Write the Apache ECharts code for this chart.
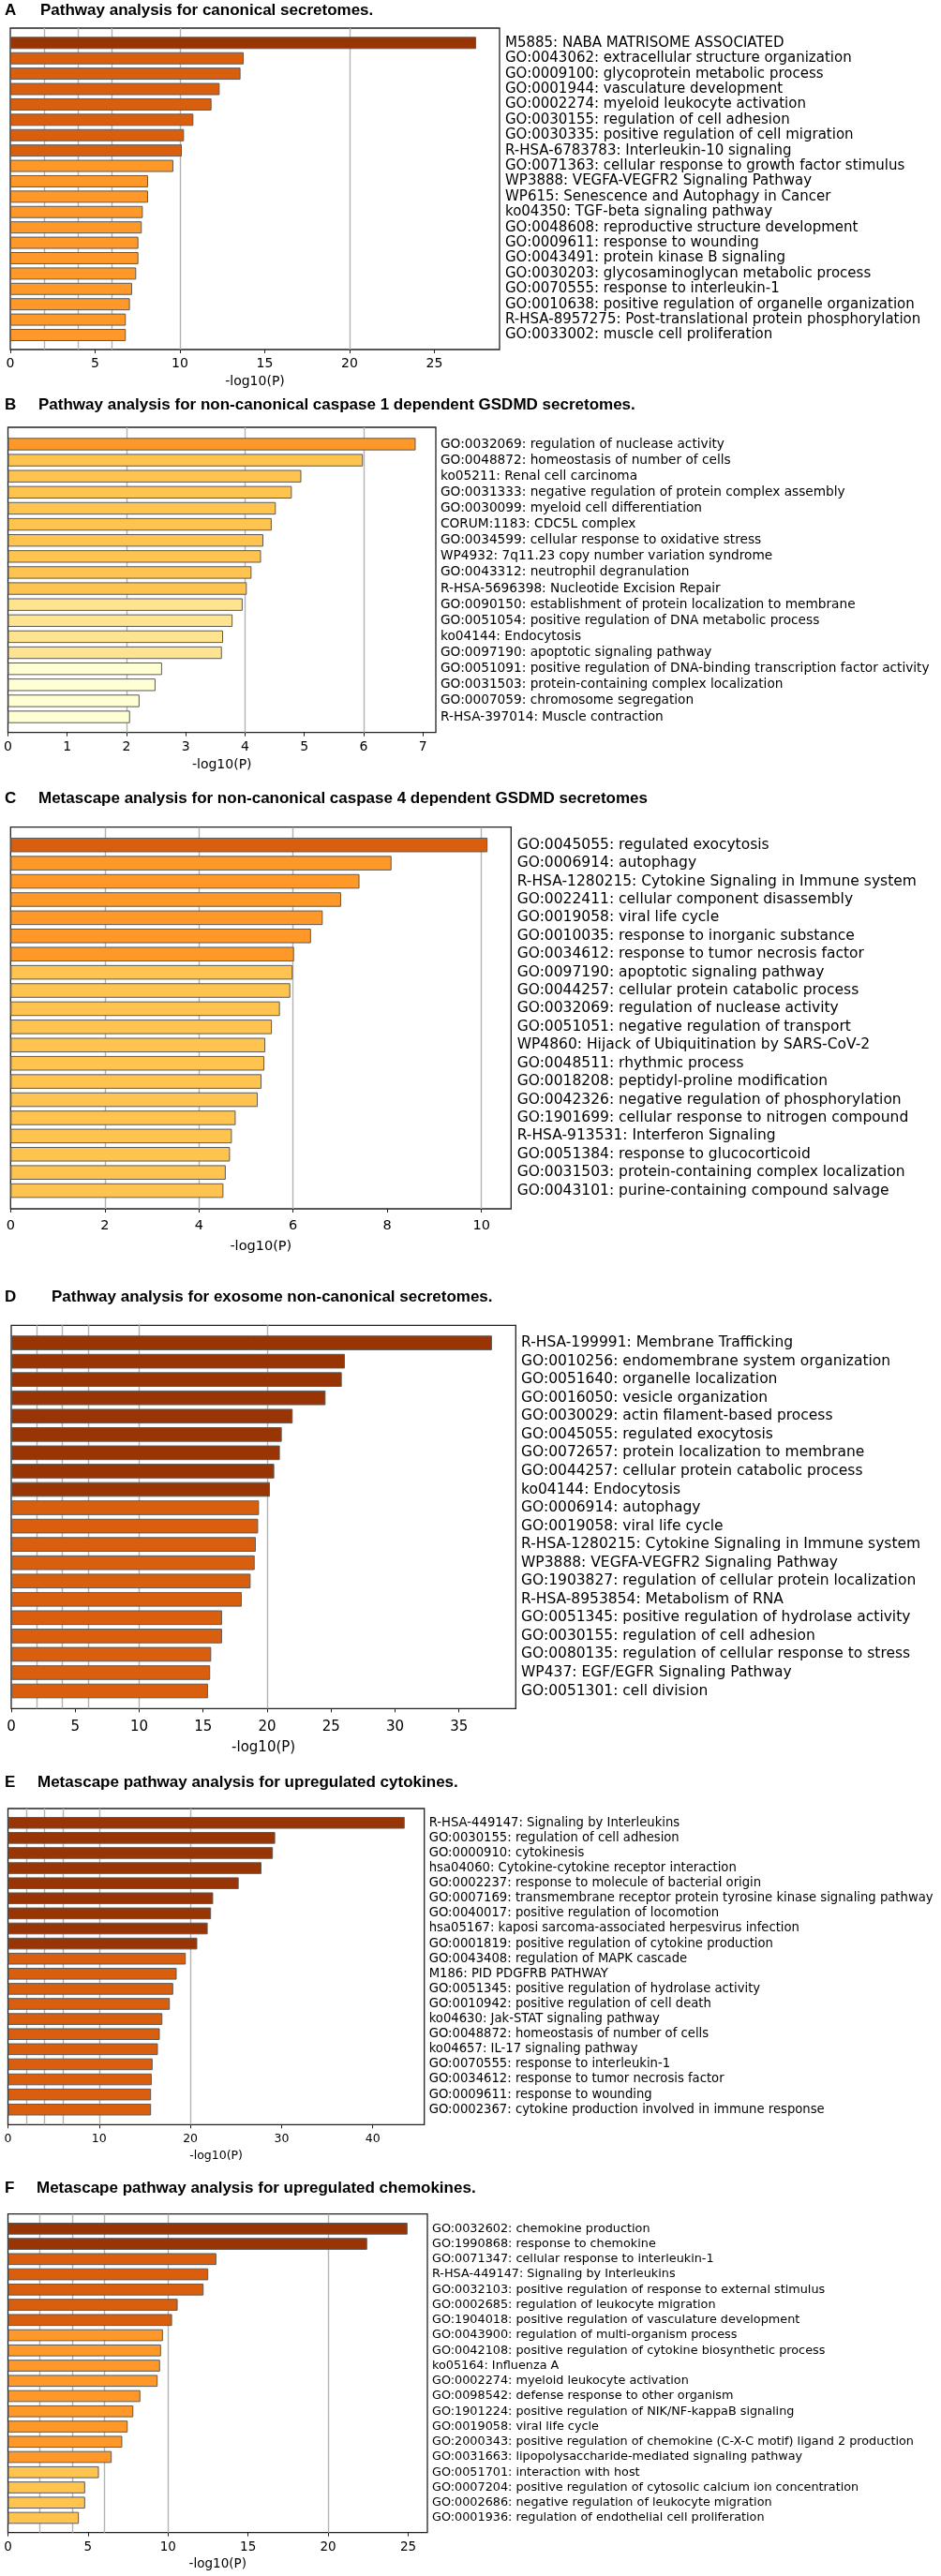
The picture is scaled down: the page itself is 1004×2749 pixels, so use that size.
<!DOCTYPE html>
<html>
<head>
<meta charset="utf-8">
<script src="https://cdn.jsdelivr.net/npm/echarts@6/dist/echarts.min.js"></script>
<style>
html, body { margin: 0; padding: 0; background: #fff; }
#main { width: 1004px; height: 2749px; }
</style>
</head>
<body>
<div id="main"></div>
<script>
// ---- data: -log10(P) per term ----
var termsA = ['M5885: NABA MATRISOME ASSOCIATED', 'GO:0043062: extracellular structure organization',
  'GO:0009100: glycoprotein metabolic process', 'GO:0001944: vasculature development',
  'GO:0002274: myeloid leukocyte activation', 'GO:0030155: regulation of cell adhesion',
  'GO:0030335: positive regulation of cell migration', 'R-HSA-6783783: Interleukin-10 signaling',
  'GO:0071363: cellular response to growth factor stimulus', 'WP3888: VEGFA-VEGFR2 Signaling Pathway',
  'WP615: Senescence and Autophagy in Cancer', 'ko04350: TGF-beta signaling pathway',
  'GO:0048608: reproductive structure development', 'GO:0009611: response to wounding',
  'GO:0043491: protein kinase B signaling', 'GO:0030203: glycosaminoglycan metabolic process',
  'GO:0070555: response to interleukin-1', 'GO:0010638: positive regulation of organelle organization',
  'R-HSA-8957275: Post-translational protein phosphorylation', 'GO:0033002: muscle cell proliferation'];
var valuesA = [27.46, 13.76, 13.57, 12.34, 11.86, 10.79, 10.24, 10.11, 9.61, 8.12,
  8.12, 7.81, 7.75, 7.55, 7.55, 7.42, 7.18, 7.05, 6.81, 6.81];
var ticksA = [0, 5, 10, 15, 20, 25];

var termsB = ['GO:0032069: regulation of nuclease activity', 'GO:0048872: homeostasis of number of cells',
  'ko05211: Renal cell carcinoma', 'GO:0031333: negative regulation of protein complex assembly',
  'GO:0030099: myeloid cell differentiation', 'CORUM:1183: CDC5L complex',
  'GO:0034599: cellular response to oxidative stress', 'WP4932: 7q11.23 copy number variation syndrome',
  'GO:0043312: neutrophil degranulation', 'R-HSA-5696398: Nucleotide Excision Repair',
  'GO:0090150: establishment of protein localization to membrane', 'GO:0051054: positive regulation of DNA metabolic process',
  'ko04144: Endocytosis', 'GO:0097190: apoptotic signaling pathway',
  'GO:0051091: positive regulation of DNA-binding transcription factor activity', 'GO:0031503: protein-containing complex localization',
  'GO:0007059: chromosome segregation', 'R-HSA-397014: Muscle contraction'];
var valuesB = [6.88, 5.99, 4.95, 4.79, 4.52, 4.45, 4.31, 4.27, 4.11, 4.03,
  3.96, 3.79, 3.63, 3.61, 2.60, 2.49, 2.22, 2.06];
var ticksB = [0, 1, 2, 3, 4, 5, 6, 7];

var termsC = ['GO:0045055: regulated exocytosis', 'GO:0006914: autophagy',
  'R-HSA-1280215: Cytokine Signaling in Immune system', 'GO:0022411: cellular component disassembly',
  'GO:0019058: viral life cycle', 'GO:0010035: response to inorganic substance',
  'GO:0034612: response to tumor necrosis factor', 'GO:0097190: apoptotic signaling pathway',
  'GO:0044257: cellular protein catabolic process', 'GO:0032069: regulation of nuclease activity',
  'GO:0051051: negative regulation of transport', 'WP4860: Hijack of Ubiquitination by SARS-CoV-2',
  'GO:0048511: rhythmic process', 'GO:0018208: peptidyl-proline modification',
  'GO:0042326: negative regulation of phosphorylation', 'GO:1901699: cellular response to nitrogen compound',
  'R-HSA-913531: Interferon Signaling', 'GO:0051384: response to glucocorticoid',
  'GO:0031503: protein-containing complex localization', 'GO:0043101: purine-containing compound salvage'];
var valuesC = [10.13, 8.09, 7.41, 7.02, 6.63, 6.38, 6.02, 5.99, 5.94, 5.72,
  5.55, 5.41, 5.39, 5.33, 5.25, 4.78, 4.70, 4.66, 4.57, 4.52];
var ticksC = [0, 2, 4, 6, 8, 10];

var termsD = ['R-HSA-199991: Membrane Trafficking', 'GO:0010256: endomembrane system organization',
  'GO:0051640: organelle localization', 'GO:0016050: vesicle organization',
  'GO:0030029: actin filament-based process', 'GO:0045055: regulated exocytosis',
  'GO:0072657: protein localization to membrane', 'GO:0044257: cellular protein catabolic process',
  'ko04144: Endocytosis', 'GO:0006914: autophagy', 'GO:0019058: viral life cycle',
  'R-HSA-1280215: Cytokine Signaling in Immune system', 'WP3888: VEGFA-VEGFR2 Signaling Pathway',
  'GO:1903827: regulation of cellular protein localization', 'R-HSA-8953854: Metabolism of RNA',
  'GO:0051345: positive regulation of hydrolase activity', 'GO:0030155: regulation of cell adhesion',
  'GO:0080135: regulation of cellular response to stress', 'WP437: EGF/EGFR Signaling Pathway',
  'GO:0051301: cell division'];
var valuesD = [37.58, 26.08, 25.84, 24.57, 22.0, 21.15, 21.0, 20.56, 20.22, 19.37,
  19.30, 19.12, 19.03, 18.71, 18.02, 16.48, 16.48, 15.63, 15.55, 15.38];
var ticksD = [0, 5, 10, 15, 20, 25, 30, 35];

var termsE = ['R-HSA-449147: Signaling by Interleukins', 'GO:0030155: regulation of cell adhesion',
  'GO:0000910: cytokinesis', 'hsa04060: Cytokine-cytokine receptor interaction',
  'GO:0002237: response to molecule of bacterial origin',
  'GO:0007169: transmembrane receptor protein tyrosine kinase signaling pathway',
  'GO:0040017: positive regulation of locomotion', 'hsa05167: kaposi sarcoma-associated herpesvirus infection',
  'GO:0001819: positive regulation of cytokine production', 'GO:0043408: regulation of MAPK cascade',
  'M186: PID PDGFRB PATHWAY', 'GO:0051345: positive regulation of hydrolase activity',
  'GO:0010942: positive regulation of cell death', 'ko04630: Jak-STAT signaling pathway',
  'GO:0048872: homeostasis of number of cells', 'ko04657: IL-17 signaling pathway',
  'GO:0070555: response to interleukin-1', 'GO:0034612: response to tumor necrosis factor',
  'GO:0009611: response to wounding', 'GO:0002367: cytokine production involved in immune response'];
var valuesE = [43.5, 29.3, 29.05, 27.8, 25.3, 22.5, 22.27, 21.9, 20.76, 19.5,
  18.5, 18.12, 17.75, 16.93, 16.65, 16.44, 15.86, 15.76, 15.69, 15.69];
var ticksE = [0, 10, 20, 30, 40];

var termsF = ['GO:0032602: chemokine production', 'GO:1990868: response to chemokine',
  'GO:0071347: cellular response to interleukin-1', 'R-HSA-449147: Signaling by Interleukins',
  'GO:0032103: positive regulation of response to external stimulus', 'GO:0002685: regulation of leukocyte migration',
  'GO:1904018: positive regulation of vasculature development', 'GO:0043900: regulation of multi-organism process',
  'GO:0042108: positive regulation of cytokine biosynthetic process', 'ko05164: Influenza A',
  'GO:0002274: myeloid leukocyte activation', 'GO:0098542: defense response to other organism',
  'GO:1901224: positive regulation of NIK/NF-kappaB signaling', 'GO:0019058: viral life cycle',
  'GO:2000343: positive regulation of chemokine (C-X-C motif) ligand 2 production',
  'GO:0031663: lipopolysaccharide-mediated signaling pathway', 'GO:0051701: interaction with host',
  'GO:0007204: positive regulation of cytosolic calcium ion concentration',
  'GO:0002686: negative regulation of leukocyte migration', 'GO:0001936: regulation of endothelial cell proliferation'];
var valuesF = [24.96, 22.44, 13.02, 12.51, 12.22, 10.6, 10.25, 9.68, 9.56, 9.5,
  9.35, 8.27, 7.83, 7.48, 7.14, 6.48, 5.68, 4.82, 4.82, 4.43];
var ticksF = [0, 5, 10, 15, 20, 25];

// p-value reference lines (-log10 P = 2, 4, 6, 10, 20)
var cutLines = [2, 4, 6, 10, 20];
// discrete colour bins by -log10(P)
var pBreaks = [20, 10, 6, 4, 3];
var pColors = ['#993404', '#d95f0e', '#fe9929', '#fec44f', '#fee391', '#ffffd4'];

function binColor(v) {
  for (var i = 0; i < pBreaks.length; i++) {
    if (v >= pBreaks[i]) return pColors[i];
  }
  return pColors[pColors.length - 1];
}

// layout of the six panels (frame = [left, top, right, bottom], bars = inner band top/bottom)
var panels = [
  {letter: 'A', title: 'Pathway analysis for canonical secretomes.', tx: 43, ty: 12,
   terms: termsA, values: valuesA, ticks: ticksA, frame: [11, 30, 533, 373], bars: [37.6, 365.7],
   xMax: 28.84, tickFont: 14, labelFont: 15, labelMargin: 6, tickMargin: 8, nameGap: 27, gap: '21%'},
  {letter: 'B', title: 'Pathway analysis for non-canonical caspase 1 dependent GSDMD secretomes.', tx: 41, ty: 433,
   terms: termsB, values: valuesB, ticks: ticksB, frame: [8.5, 456, 465, 781.7], bars: [465.4, 773.6],
   xMax: 7.22, tickFont: 14, labelFont: 13.7, labelMargin: 5, tickMargin: 9, nameGap: 28, gap: '22%'},
  {letter: 'C', title: 'Metascape analysis for non-canonical caspase 4 dependent GSDMD secretomes', tx: 41, ty: 853,
   terms: termsC, values: valuesC, ticks: ticksC, frame: [11.3, 882.7, 545.3, 1290], bars: [892, 1280.3],
   xMax: 10.63, tickFont: 14.5, labelFont: 15.5, labelMargin: 6.4, tickMargin: 10.5, nameGap: 32.5, gap: '20%'},
  {letter: 'D', title: 'Pathway analysis for exosome non-canonical secretomes.', tx: 55, ty: 1385,
   terms: termsD, values: valuesD, ticks: ticksD, frame: [12, 1414.3, 550.3, 1823.3], bars: [1423.3, 1814.3],
   xMax: 39.44, tickFont: 15, labelFont: 15.5, labelMargin: 5.7, tickMargin: 12, nameGap: 34, gap: '20%'},
  {letter: 'E', title: 'Metascape pathway analysis for upregulated cytokines.', tx: 40, ty: 1903,
   terms: termsE, values: valuesE, ticks: ticksE, frame: [8.5, 1930, 452.7, 2267.3], bars: [1937.2, 2259.3],
   xMax: 45.65, tickFont: 12.5, labelFont: 13.2, labelMargin: 5, tickMargin: 9, nameGap: 27, gap: '22%'},
  {letter: 'F', title: 'Metascape pathway analysis for upregulated chemokines.', tx: 39, ty: 2336,
   terms: termsF, values: valuesF, ticks: ticksF, frame: [8.5, 2362.7, 456, 2702.7], bars: [2370.2, 2695.1],
   xMax: 26.2, tickFont: 13.5, labelFont: 12.8, labelMargin: 5, tickMargin: 9, nameGap: 26.5, gap: '22%'}
];

var labelFamily = '"DejaVu Sans", sans-serif';
var titleFamily = '"Liberation Sans", Arial, sans-serif';

var option = {
  animation: false,
  backgroundColor: '#fff',
  title: [], grid: [], xAxis: [], yAxis: [], series: []
};

panels.forEach(function (p, k) {
  var L = p.frame[0], T = p.frame[1], R = p.frame[2], B = p.frame[3];
  var og = 2 * k, ig = 2 * k + 1;

  option.title.push({
    text: p.letter, left: 5, top: p.ty - 9, padding: 0,
    textStyle: {fontFamily: titleFamily, fontWeight: 'bold', fontSize: 17, color: '#000'}
  });
  option.title.push({
    text: p.title, left: p.tx, top: p.ty - 9, padding: 0,
    textStyle: {fontFamily: titleFamily, fontWeight: 'bold', fontSize: 17, color: '#000'}
  });

  // outer frame grid: carries the x axis and the reference lines
  option.grid.push({
    left: L, top: T, width: R - L, height: B - T,
    show: true, borderColor: '#222', borderWidth: 1.3, backgroundColor: 'transparent',
    containLabel: false, outerBoundsMode: 'none'
  });
  // inner grid: bars and term labels
  option.grid.push({
    left: L, top: p.bars[0], width: R - L, height: p.bars[1] - p.bars[0],
    containLabel: false, outerBoundsMode: 'none'
  });

  option.xAxis.push({
    gridIndex: og, type: 'value', min: 0, max: p.xMax,
    axisLine: {show: false},
    splitLine: {show: false},
    axisTick: {show: true, inside: false, length: 4, lineStyle: {color: '#222', width: 1}, customValues: p.ticks},
    axisLabel: {customValues: p.ticks, fontFamily: labelFamily, fontSize: p.tickFont, color: '#000', margin: p.tickMargin},
    name: '-log10(P)', nameLocation: 'middle', nameGap: p.nameGap,
    nameTextStyle: {fontFamily: labelFamily, fontSize: p.tickFont, color: '#000'}
  });
  option.xAxis.push({
    gridIndex: ig, type: 'value', min: 0, max: p.xMax, show: false
  });
  option.yAxis.push({
    gridIndex: og, type: 'value', min: 0, max: 1, show: false
  });
  option.yAxis.push({
    gridIndex: ig, type: 'category', data: p.terms, inverse: true, position: 'right',
    axisLine: {show: false}, axisTick: {show: false}, splitLine: {show: false},
    axisLabel: {interval: 0, fontFamily: labelFamily, fontSize: p.labelFont, color: '#000',
      margin: p.labelMargin, align: 'left', hideOverlap: false}
  });

  option.series.push({
    type: 'line', xAxisIndex: og, yAxisIndex: og, data: [], z: 1, silent: true,
    markLine: {
      silent: true, symbol: 'none', animation: false, z: 1,
      label: {show: false},
      lineStyle: {color: '#b3b3b3', width: 1.4, type: 'solid'},
      data: cutLines.filter(function (v) { return v < p.xMax; }).map(function (v) { return {xAxis: v}; })
    }
  });
  option.series.push({
    type: 'bar', xAxisIndex: ig, yAxisIndex: ig, data: p.values, z: 3,
    barCategoryGap: p.gap,
    itemStyle: {
      color: function (d) { return binColor(d.value); },
      borderColor: '#5a5a5a', borderWidth: 1
    }
  });
});

var chart = echarts.init(document.getElementById('main'));
chart.setOption(option);
</script>
</body>
</html>
